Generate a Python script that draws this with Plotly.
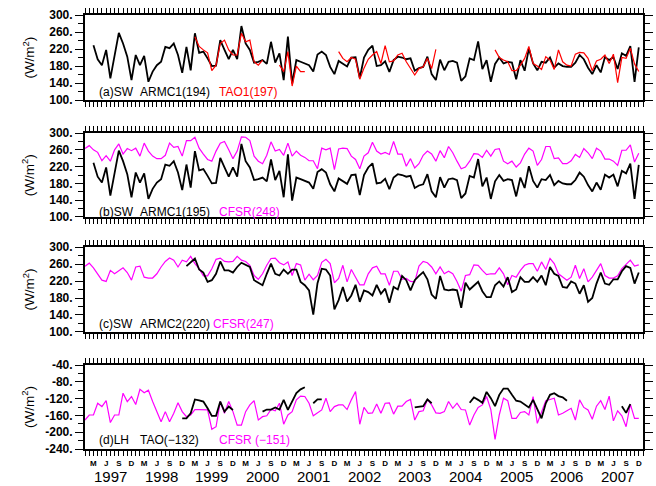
import plotly.graph_objects as go

# ---------------- data (monthly, Jan 1997 .. Dec 2007; index 0 = Jan 1997) ----------------
N_MONTHS = 132
month_index = list(range(N_MONTHS))
month_letters = ["J", "F", "M", "A", "M", "J", "J", "A", "S", "O", "N", "D"]
labeled_months = [2, 5, 8, 11]          # Mar, Jun, Sep, Dec
years = list(range(1997, 2008))

# ARMC1 shortwave (panels a and b, black)
armc1_sw = ([None] * 2 +
            [229, 196, 182, 218, 151, 205, 258, 233, 202, 147,
             206, 182, 204, 143, 167, 182, 190, 225, 222, 233,
             206, 164, 225, 170, 257, 211, 214, 198, 180, 181,
             241, 218, 196, 218, 196, 274, 233, 218, 188, 190,
             194, 185, 237, 188, 210, 147, 249, 139, 194, 190,
             186, 182, 167, 207, 214, 206, 178] +
            [161, 192, 185, 179, 200, 201, 152, 200, 218, 228,
             180, 182, 191, 166, 194, 202, 200, 196, 198, 169,
             175, 178, 202, 161, 147, 195, 170, 190, 192, 188,
             145, 156, 198, 194, 238, 173, 194, 143, 185, 200,
             186, 190, 188, 149, 194, 169, 221, 186, 170, 190,
             188, 200, 176, 186, 180, 178, 178, 188, 206, 196,
             176, 161, 182, 165, 201, 194, 201, 173, 210, 204,
             227, 143, 224])

# TAO1 shortwave (panel a, red)
tao1_sw = ([None] * 26 +
           [249, 226, 218, 211, 169, 182, 233, 241, 218, 206,
            206, 257, 237, 241, 190, 182, 194] +
           [None] * 3 +
           [182, 167, 214, 133, 180, 167, 167] +
           [None] * 7 +
           [214, 198, 190, 200, 196, 149, 175, 196, 206, 214,
            186, 228, 190, 192, 206, 210, 190, 174, 159, 174,
            178, 198, 174, 219] +
           [None] * 13 +
           [218, 200, 194, 190, 169, 169, 182, 198, 226, 186,
            180, 172, 202, 194, 172, 218, 190, 182, 180, 208,
            212, 211, 198, 169, 192, 196, 206, 186, 208, 141,
            200, 198, 222, 185, 167])

# CFSR shortwave at ARMC1 (panel b, magenta)
cfsr_sw_b = [263, 270, 260, 254, 234, 246, 233, 260, 274, 250,
             263, 258, 264, 245, 276, 257, 245, 239, 239, 247,
             276, 266, 268, 245, 282, 282, 290, 264, 250, 237,
             233, 257, 276, 280, 260, 239, 257, 291, 290, 282,
             245, 233, 227, 247, 279, 257, 261, 247, 276, 245,
             257, 247, 242, 234, 234, 215, 264, 260, 264,
             213, 262, 264, 263, 245, 237, 215, 245, 253, 278,
             257, 250, 254, 249, 280, 250, 250, 221, 239, 217,
             227, 247, 257, 250, 233, 258, 241, 268, 253, 233,
             215, 219, 233, 251, 250, 242, 259, 245, 261, 263,
             233, 227, 233, 219, 229, 250, 264, 257, 223, 237,
             268, 268, 239, 241, 227, 227, 234, 249, 242, 263,
             253, 239, 264, 257, 238, 238, 233, 223, 259, 259,
             272, 231, 252]

# ARMC2 shortwave (panel c, black)
armc2_sw = ([None] * 24 +
            [255, 265, 273, 247, 240, 218, 222, 237, 266, 245,
             245, 240, 253, 263, 258, 253, 222, 216, 210, 237,
             261, 237, 233, 247, 237, 247, 247,
             218, 210, 198, 141, 215, 249, 247, 233] +
            [153, 175, 206, 172, 186, 211, 171, 198, 194, 186,
             211, 190, 202, 169, 206, 200, 232, 222, 198, 222,
             232, 241, 224, 188, 178, 232, 200, 198, 200, 198,
             157, 216, 200, 210, 218, 196, 182, 182, 210, 219,
             207, 229, 194, 200, 229, 218, 218, 229, 218, 233,
             210, 253, 237, 232, 206, 204, 219, 214, 190, 210,
             171, 180, 214, 240, 214, 211, 224, 224, 243, 255,
             251, 214, 240])

# CFSR shortwave at ARMC2 (panel c, magenta)
cfsr_sw_c = [255, 262, 251, 237, 222, 219, 245, 237, 243, 251,
             240, 222, 253, 255, 229, 227, 227, 237, 253, 266,
             274, 269, 253, 269, 265, 278, 261, 249, 232, 232,
             249, 271, 274, 266, 265, 266, 278, 269, 266, 257,
             233, 224, 237, 257, 273, 274, 263, 258, 265, 233,
             261, 258, 222, 236, 223, 233, 264, 271, 261,
             216, 226, 257, 218, 247, 229, 211, 211, 237, 251,
             255, 237, 237, 210, 243, 243, 224, 226, 219, 218,
             255, 266, 263, 253, 237, 253, 237, 243, 237, 219,
             196, 233, 235, 258, 257, 245, 235, 237, 237, 251,
             237, 211, 233, 229, 245, 257, 261, 261, 243, 265,
             247, 273, 261, 237, 229, 222, 229, 257, 226, 249,
             218, 229, 245, 261, 233, 227, 227, 232, 249, 258,
             269, 255, 258]

# TAO latent heat (panel d, black)
tao_lh = ([None] * 23 +
          [-167, -167, -155, -122, -124, -127, -143, -161, -161, -127,
           -151, -139, -147] +
          [None] * 6 +
          [-151, -146, -146, -141, -146, -123, -147, -127, -107, -98, -93] +
          [None] * 1 +
          [-131, -122, -122] +
          [None] * 21 +
          [-141, -139, -138, -122, -131] +
          [None] * 8 +
          [-130, -117, -123, -130, -104, -119, -138, -111, -96, -96,
           -111, -125, -127, -135, -141, -123, -146, -167, -131, -111,
           -107, -114, -117, -125] +
          [None] * 12 +
          [-138, -154, -133] +
          [None] * 2)

# CFSR latent heat (panel d, magenta)
cfsr_lh = [-171, -159, -159, -131, -139, -125, -177, -159, -159, -107,
           -127, -115, -134, -98, -106, -100, -127, -151, -175, -151,
           -175, -155, -130, -151, -163, -159, -146, -146, -147, -147,
           -193, -187, -127, -155, -127, -151, -183, -183, -151, -135,
           -125, -171, -163, -161, -146, -149, -131, -181, -159, -151,
           -123, -114, -115, -131, -161, -154, -147, -119, -151,
           -139, -135, -135, -146, -123, -103, -181, -141, -155, -154,
           -133, -155, -131, -130, -157, -138, -138, -127, -122, -171,
           -151, -149, -122, -135, -154, -155, -151, -127, -143, -131,
           -146, -147, -183, -159, -141, -135, -115, -146, -217, -159,
           -119, -125, -167, -167, -153, -151, -159, -115, -179, -151,
           -125, -122, -119, -159, -155, -149, -143, -171, -123, -141,
           -147, -169, -138, -125, -146, -114, -173, -149, -161, -187,
           -133, -167, -167]

sw_labels = list(range(100, 301, 40))
sw_minor = list(range(100, 301, 20))
lh_labels = list(range(-240, -39, 40))
lh_minor = list(range(-240, -39, 20))

# ---------------- figure ----------------
BLACK = "#000000"
RED = "#ff0000"
MAGENTA = "#ff00ff"
FONT = "Liberation Sans"

fig = go.Figure()

panels = [
    ("", [0.804, 1.0], [(armc1_sw, BLACK, 1.8), (tao1_sw, RED, 1.2)], sw_labels, sw_minor, [100, 300]),
    ("2", [0.5346, 0.728], [(cfsr_sw_b, MAGENTA, 1.2), (armc1_sw, BLACK, 1.8)], sw_labels, sw_minor, [100, 300]),
    ("3", [0.2696, 0.4654], [(cfsr_sw_c, MAGENTA, 1.2), (armc2_sw, BLACK, 1.8)], sw_labels, sw_minor, [100, 300]),
    ("4", [0.0, 0.1935], [(cfsr_lh, MAGENTA, 1.2), (tao_lh, BLACK, 1.8)], lh_labels, lh_minor, [-240, -40]),
]

x_major = [i for i in month_index if (i % 12) in labeled_months]
x_text = [month_letters[i % 12] for i in x_major]
x_minor = list(range(0, N_MONTHS + 1))

minor_style = dict(ticks="outside", ticklen=5, tickwidth=1.3, tickcolor=BLACK)

layout_axes = {}
for k, (ref, dom, traces, ylab, yminor, yrange) in enumerate(panels):
    xname = "x" + ref
    yname = "y" + ref
    for yvals, color, width in traces:
        fig.add_trace(go.Scatter(x=month_index, y=yvals, mode="lines",
                                 line=dict(color=color, width=width),
                                 connectgaps=False, showlegend=False,
                                 xaxis=xname, yaxis=yname, hoverinfo="skip"))
    last = (k == len(panels) - 1)
    layout_axes["xaxis" + ref] = dict(
        domain=[0, 1], anchor=yname, range=[0, N_MONTHS],
        showline=True, linewidth=2, linecolor=BLACK, mirror="allticks",
        tickvals=x_major, ticktext=x_text, showticklabels=last,
        ticks="outside", ticklen=5, tickwidth=1.3, tickcolor=BLACK,
        minor=dict(tickvals=x_minor, **minor_style),
        tickfont=dict(family=FONT, size=8, color=BLACK, weight="bold"),
        tickangle=0, showgrid=False, zeroline=False, fixedrange=True)
    layout_axes["yaxis" + ref] = dict(
        domain=dom, anchor=xname, range=yrange,
        showline=True, linewidth=2, linecolor=BLACK, mirror="allticks",
        tickvals=ylab, ticktext=[f"{v}." for v in ylab],
        ticks="outside", ticklen=8, tickwidth=1.3, tickcolor=BLACK,
        minor=dict(tickvals=yminor, **minor_style),
        tickfont=dict(family=FONT, size=12, color=BLACK, weight="bold"),
        showgrid=False, zeroline=False, fixedrange=True)

# ---------------- annotations ----------------
annotations = []
label_rows = [
    (0.8226, [(0.021, "(a)SW", BLACK), (0.095, "ARMC1(194)", BLACK), (0.237, "TAO1(197)", RED)]),
    (0.5468, [(0.021, "(b)SW", BLACK), (0.095, "ARMC1(195)", BLACK), (0.237, "CFSR(248)", MAGENTA)]),
    (0.2887, [(0.021, "(c)SW", BLACK), (0.095, "ARMC2(220)", BLACK), (0.226, "CFSR(247)", MAGENTA)]),
    (0.0207, [(0.021, "(d)LH", BLACK), (0.095, "TAO(\u2212132)", BLACK), (0.237, "CFSR (\u2212151)", MAGENTA)]),
]
for ypos, parts in label_rows:
    for xpos, txt, col in parts:
        annotations.append(dict(xref="paper", yref="paper", x=xpos, y=ypos, text=txt,
                                showarrow=False, xanchor="left", yanchor="middle",
                                font=dict(family=FONT, size=12, color=col)))

for ycen in [0.902, 0.631, 0.3675, 0.0968]:
    annotations.append(dict(xref="paper", yref="paper", x=-0.102, y=ycen,
                            text="(W/m<sup>2</sup>)", textangle=-90, showarrow=False,
                            xanchor="center", yanchor="middle",
                            font=dict(family=FONT, size=13.5, color=BLACK)))

for k, yr in enumerate(years):
    annotations.append(dict(xref="x4", yref="paper", x=6 + 12 * k, y=-0.064,
                            text=str(yr), showarrow=False, xanchor="center",
                            yanchor="middle",
                            font=dict(family=FONT, size=15, color=BLACK)))

fig.update_layout(
    width=656, height=486,
    margin=dict(l=85, r=13, t=15, b=37, autoexpand=False),
    paper_bgcolor="white", plot_bgcolor="white",
    showlegend=False,
    annotations=annotations,
    **layout_axes,
)

fig.write_html("out.html", include_plotlyjs=True, config={"displayModeBar": False},
               post_script="document.body.style.margin='0';document.body.style.overflow='hidden';")
